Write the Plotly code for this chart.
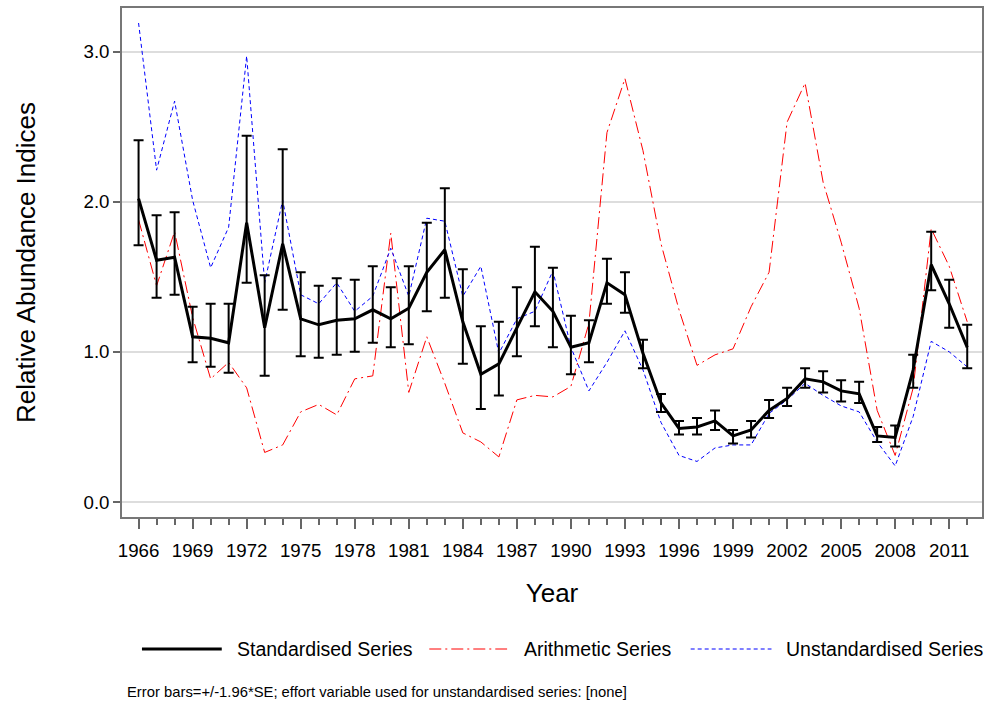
import plotly.graph_objects as go

years = list(range(1966, 2013))

standardised = [2.02, 1.61, 1.63, 1.10, 1.09, 1.06, 1.86, 1.16, 1.72, 1.22,
                1.18, 1.21, 1.22, 1.28, 1.22, 1.29, 1.53, 1.68, 1.20, 0.85,
                0.92, 1.16, 1.40, 1.27, 1.03, 1.06, 1.46, 1.38, 0.99, 0.66,
                0.49, 0.50, 0.54, 0.44, 0.48, 0.61, 0.69, 0.82, 0.80, 0.74,
                0.72, 0.44, 0.43, 0.88, 1.58, 1.32, 1.03]
upper = [2.41, 1.91, 1.93, 1.30, 1.32, 1.32, 2.44, 1.51, 2.35, 1.53,
         1.44, 1.49, 1.48, 1.57, 1.43, 1.57, 1.86, 2.09, 1.55, 1.17,
         1.20, 1.43, 1.70, 1.56, 1.24, 1.21, 1.62, 1.53, 1.08, 0.72,
         0.54, 0.56, 0.61, 0.48, 0.54, 0.68, 0.76, 0.89, 0.87, 0.81,
         0.80, 0.50, 0.51, 0.98, 1.80, 1.48, 1.18]
lower = [1.71, 1.36, 1.38, 0.93, 0.90, 0.86, 1.46, 0.84, 1.28, 0.97,
         0.96, 0.98, 1.00, 1.06, 1.03, 1.05, 1.27, 1.36, 0.92, 0.62,
         0.71, 0.97, 1.17, 1.03, 0.85, 0.93, 1.32, 1.26, 0.89, 0.60,
         0.45, 0.45, 0.48, 0.39, 0.43, 0.56, 0.64, 0.76, 0.73, 0.67,
         0.66, 0.40, 0.37, 0.76, 1.41, 1.16, 0.89]
arithmetic = [1.88, 1.44, 1.80, 1.23, 0.82, 0.93, 0.76, 0.33, 0.38, 0.60,
              0.65, 0.58, 0.82, 0.84, 1.79, 0.73, 1.10, 0.79, 0.46, 0.40,
              0.30, 0.68, 0.71, 0.70, 0.77, 1.19, 2.46, 2.82, 2.34, 1.72,
              1.28, 0.91, 0.98, 1.02, 1.30, 1.53, 2.53, 2.79, 2.13, 1.73,
              1.29, 0.61, 0.31, 0.76, 1.82, 1.57, 1.20]
unstandardised = [3.19, 2.21, 2.67, 2.01, 1.56, 1.83, 2.97, 1.46, 2.01, 1.38,
                  1.32, 1.46, 1.27, 1.37, 1.69, 1.37, 1.89, 1.87, 1.37, 1.57,
                  0.99, 1.22, 1.27, 1.54, 1.03, 0.74, 0.93, 1.14, 0.88, 0.53,
                  0.31, 0.27, 0.36, 0.38, 0.38, 0.59, 0.68, 0.79, 0.71, 0.64,
                  0.60, 0.40, 0.24, 0.57, 1.07, 1.00, 0.90]

x_tick_years = list(range(1966, 2012, 3))
x_tick_labels = [str(y) for y in x_tick_years]
y_tick_vals = [0.0, 1.0, 2.0, 3.0]
y_tick_labels = ["0.0", "1.0", "2.0", "3.0"]

series_names = ["Standardised Series", "Arithmetic Series", "Unstandardised Series"]
footnote = "Error bars=+/-1.96*SE; effort variable used for unstandardised series: [none]"

err_plus = [u - s for u, s in zip(upper, standardised)]
err_minus = [s - l for s, l in zip(standardised, lower)]

FONT = "Arial, Liberation Sans, sans-serif"
RED_DASH = "12px,4px,2px,4px"
BLUE_DASH = "4px,3px"

fig = go.Figure()
fig.add_trace(go.Scatter(x=years, y=arithmetic, mode="lines", name=series_names[1],
                         line=dict(color="#ff0000", width=1, dash=RED_DASH), showlegend=False))
fig.add_trace(go.Scatter(x=years, y=unstandardised, mode="lines", name=series_names[2],
                         line=dict(color="#0000ff", width=1, dash=BLUE_DASH), showlegend=False))
fig.add_trace(go.Scatter(x=years, y=standardised, mode="lines", name=series_names[0],
                         line=dict(color="#000000", width=3),
                         error_y=dict(type="data", symmetric=False, array=err_plus,
                                      arrayminus=err_minus, color="#000000",
                                      thickness=2, width=5),
                         showlegend=False))

# plot area in pixels
W, H = 990, 707
ml, mr, mt, mb = 122, 6, 8, 190
pw, ph = W - ml - mr, H - mt - mb

def px_x(p):
    return (p - ml) / pw

def px_y(p):
    return (H - mb - p) / ph

# custom legend
leg_y = px_y(649)
legend_items = [
    (series_names[0], "#000000", 3, "solid", 142, 222, 235),
    (series_names[1], "#ff0000", 1, RED_DASH, 430, 508, 523),
    (series_names[2], "#0000ff", 1, BLUE_DASH, 692, 773, 786),
]
for name, col, w, dash, x0, x1, tx in legend_items:
    fig.add_shape(type="line", xref="paper", yref="paper",
                  x0=px_x(x0), x1=px_x(x1), y0=leg_y, y1=leg_y,
                  line=dict(color=col, width=w, dash=dash))
    fig.add_annotation(xref="paper", yref="paper", x=px_x(tx), y=leg_y,
                       text=name, showarrow=False, xanchor="left", yanchor="middle",
                       font=dict(family=FONT, size=19.5, color="#000000"))

fig.add_annotation(xref="paper", yref="paper", x=px_x(125), y=px_y(692),
                   text=footnote, showarrow=False, xanchor="left", yanchor="middle",
                   font=dict(family=FONT, size=14.8, color="#000000"))

fig.update_layout(
    width=W, height=H,
    margin=dict(l=ml, r=mr, t=mt, b=mb, pad=0),
    paper_bgcolor="white", plot_bgcolor="white",
    font=dict(family=FONT, color="#000000"),
    showlegend=False,
    xaxis=dict(range=[1965.08, 2012.82], tickmode="array", tickvals=x_tick_years,
               ticktext=x_tick_labels, ticks="outside", ticklen=10, tickwidth=1.5,
               tickcolor="#666666", showgrid=False, zeroline=False,
               showline=True, linecolor="#777777", linewidth=1.5, mirror=True,
               tickfont=dict(family=FONT, size=18.7, color="#000000"),
               ticklabelstandoff=6,
               minor=dict(dtick=1, tick0=1966, ticks="outside", ticklen=6,
                          tickwidth=1.5, tickcolor="#666666", showgrid=False),
               title=dict(text="Year", font=dict(family=FONT, size=26, color="#000000"),
                          standoff=24)),
    yaxis=dict(range=[-0.1, 3.29], tickmode="array", tickvals=y_tick_vals,
               ticktext=y_tick_labels, ticks="outside", ticklen=7, tickwidth=1.5,
               tickcolor="#666666", showgrid=True, gridcolor="#dddddd", gridwidth=2,
               zeroline=False, showline=True, linecolor="#777777", linewidth=1.5,
               mirror=True, tickfont=dict(family=FONT, size=18.7, color="#000000"),
               ticklabelstandoff=0,
               title=dict(text="Relative Abundance Indices",
                          font=dict(family=FONT, size=26, color="#000000"), standoff=40)),
)

fig.write_html("out.html", config={"displayModeBar": False},
               post_script="document.body.style.margin='0px';document.body.style.overflow='hidden';")
